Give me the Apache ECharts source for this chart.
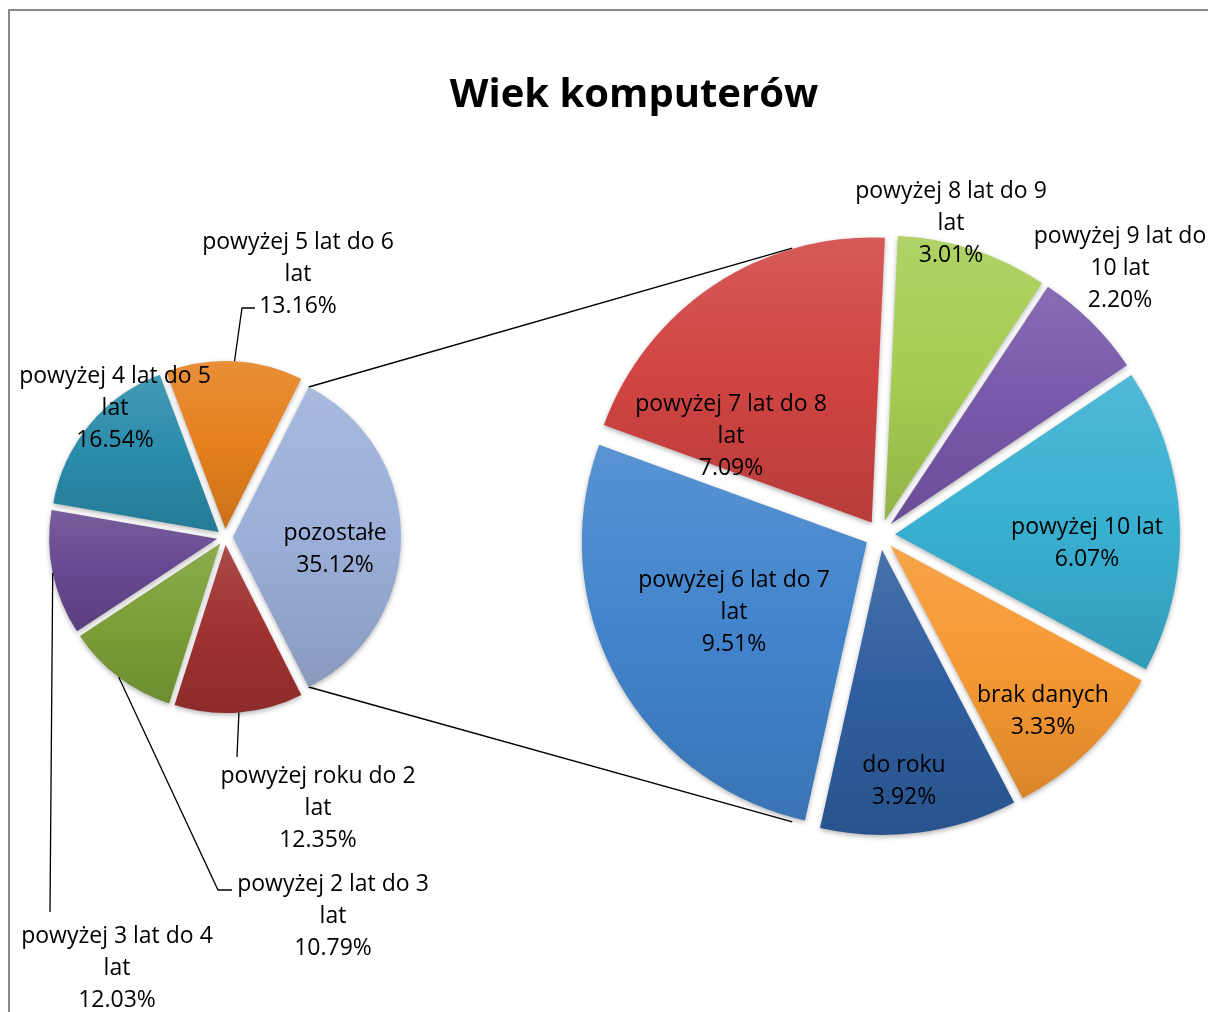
<!DOCTYPE html>
<html>
<head>
<meta charset="utf-8">
<script src="https://cdn.jsdelivr.net/npm/echarts@6/dist/echarts.min.js"></script>
<style>
    html, body {margin: 0; padding: 0; background: #fff;}
    #chart {width: 1208px; height: 1012px;}
</style>
</head>
<body>
<div id="chart"></div>
<script>
    // wykres główny (lewy)
    var mainNames = ['pozostałe', 'powyżej roku do 2 lat', 'powyżej 2 lat do 3 lat', 'powyżej 3 lat do 4 lat',
        'powyżej 4 lat do 5 lat', 'powyżej 5 lat do 6 lat'];
    var mainValues = [35.12, 12.35, 10.79, 12.03, 16.54, 13.16];
    var mainColors = ['#9bafd8', '#9f3230', '#7c9f38', '#664890', '#2a8cab', '#e5801d'];

    // rozbicie "pozostałe" (prawy)
    var restNames = ['powyżej 7 lat do 8 lat', 'powyżej 8 lat do 9 lat', 'powyżej 9 lat do 10 lat', 'powyżej 10 lat',
        'brak danych', 'do roku', 'powyżej 6 lat do 7 lat'];
    var restValues = [7.09, 3.01, 2.20, 6.07, 3.33, 3.92, 9.51];
    var restColors = ['#d04442', '#a6cc52', '#7858aa', '#39b0d1', '#f69832', '#2f5e9f', '#4284cc'];

    // geometria
    var c1 = [225, 537], r1 = 168, off1 = 8;
    var c2 = [880, 535], r2 = 285, off2 = 15;
    var start1 = mainValues[0] / 100 * 360 / 2;
    var start2 = 160;
    var joinAngle = 107;

    // pozycje etykiet
    var mainLabelPos = [[335, 549], [318, 808], [333, 916], [117, 968], [115, 408], [298, 274]];
    var mainBend = [null, [[237, 757]], [[218, 890], [232, 890]], [[50, 912]], null, [[242, 308], [255, 308]]];
    var restLabelPos = [[731, 436], [951, 223], [1120, 268], [1087, 543], [1043, 711], [904, 781], [734, 612]];

    function dir(a) {
        var rad = a * Math.PI / 180;
        return [Math.cos(rad), -Math.sin(rad)];
    }

    function pt(c, r, a) {
        var d = dir(a);
        return [c[0] + r * d[0], c[1] + r * d[1]];
    }

    function midAngles(values, start) {
        var total = values.reduce(function (s, v) { return s + v; }, 0);
        var acc = start, res = [];
        values.forEach(function (v) {
            var span = v / total * 360;
            res.push(acc - span / 2);
            acc -= span;
        });
        return res;
    }

    function shade(hex, k) {
        var n = parseInt(hex.slice(1), 16);
        var r = (n >> 16) & 255, g = (n >> 8) & 255, b = n & 255;
        function f(x) {
            var y = k > 0 ? x + (255 - x) * k : x * (1 + k);
            return Math.round(Math.max(0, Math.min(255, y)));
        }
        return 'rgb(' + f(r) + ',' + f(g) + ',' + f(b) + ')';
    }

    function grad(c) {
        return {
            type: 'linear', x: 0, y: 0, x2: 0, y2: 1,
            colorStops: [
                {offset: 0, color: shade(c, 0.12)},
                {offset: 0.5, color: c},
                {offset: 1, color: shade(c, -0.12)}
            ]
        };
    }

    function wrap(name) {
        var words = name.split(' '), lines = [], cur = '';
        words.forEach(function (w) {
            var t = cur ? cur + ' ' + w : w;
            if (t.length > 18 && cur) {
                lines.push(cur);
                cur = w;
            } else {
                cur = t;
            }
        });
        lines.push(cur);
        return lines.join('\n');
    }

    var mid1 = midAngles(mainValues, start1);

    // wycinki (wysunięte)
    var mainSlices = mainNames.map(function (n, i) {
        return {name: n, value: mainValues[i], selected: true, itemStyle: {color: grad(mainColors[i])}};
    });
    var restSlices = restNames.map(function (n, i) {
        return {name: n, value: restValues[i], selected: true, itemStyle: {color: grad(restColors[i])}};
    });
    // etykiety (niewidoczna kopia bez wysunięcia)
    var mainLabels = mainNames.map(function (n, i) {
        return {name: n, value: mainValues[i], labelLine: {show: !!mainBend[i]}};
    });
    var restLabels = restNames.map(function (n, i) {
        return {name: n, value: restValues[i]};
    });

    var labelStyle = {
        show: true,
        color: '#000',
        fontFamily: 'Open Sans',
        fontSize: 23,
        lineHeight: 32,
        formatter: function (p) {
            return wrap(p.name) + '\n' + p.value.toFixed(2) + '%';
        }
    };

    var p1Top = pt([c1[0] + off1, c1[1]], r1, start1);
    var p1Bot = pt([c1[0] + off1, c1[1]], r1, -start1);
    var p2Top = pt(c2, r2 + off2, joinAngle);
    var p2Bot = pt(c2, r2 + off2, -joinAngle);

    function slicePie(center, radius, start, offset, data) {
        return {
            type: 'pie',
            center: center,
            radius: radius,
            startAngle: start,
            clockwise: true,
            selectedMode: 'multiple',
            selectedOffset: offset,
            emphasis: {disabled: true},
            silent: true,
            itemStyle: {shadowBlur: 5, shadowColor: 'rgba(0,0,0,0.3)', shadowOffsetY: 2},
            label: {show: false},
            labelLine: {show: false},
            data: data
        };
    }

    function labelPie(center, radius, start, data, layout, withLines) {
        return {
            type: 'pie',
            center: center,
            radius: radius,
            startAngle: start,
            clockwise: true,
            silent: true,
            z: 3,
            avoidLabelOverlap: false,
            emphasis: {disabled: true},
            itemStyle: {color: 'rgba(0,0,0,0)'},
            label: labelStyle,
            labelLine: {show: withLines, lineStyle: {color: '#000', width: 1.3}},
            labelLayout: layout,
            data: data
        };
    }

    var myChart = echarts.init(document.getElementById('chart'));
    var option = {
        backgroundColor: '#fff',
        animation: false,
        title: {
            text: 'Wiek komputerów',
            left: 629,
            top: 71,
            textAlign: 'center',
            textStyle: {fontFamily: 'Open Sans', fontSize: 40, fontWeight: 'bold', color: '#000'}
        },
        graphic: [
            {
                type: 'rect', z: -1, silent: true,
                shape: {x: 9, y: 10, width: 1400, height: 1200},
                style: {fill: null, stroke: '#8a8a8a', lineWidth: 2}
            },
            {
                type: 'line', z: 0, silent: true,
                shape: {x1: p1Top[0], y1: p1Top[1], x2: p2Top[0], y2: p2Top[1]},
                style: {stroke: '#000', lineWidth: 1.5}
            },
            {
                type: 'line', z: 0, silent: true,
                shape: {x1: p1Bot[0], y1: p1Bot[1], x2: p2Bot[0], y2: p2Bot[1]},
                style: {stroke: '#000', lineWidth: 1.5}
            }
        ],
        series: [
            slicePie(c1, r1, start1, off1, mainSlices),
            slicePie(c2, r2, start2, off2, restSlices),
            labelPie(c1, r1, start1, mainLabels, function (p) {
                var i = p.dataIndex;
                var res = {x: mainLabelPos[i][0], y: mainLabelPos[i][1], align: 'center', verticalAlign: 'middle'};
                if (mainBend[i]) {
                    var pts = [pt(c1, r1 + off1, mid1[i])].concat(mainBend[i]);
                    if (pts.length < 3) pts.push(pts[pts.length - 1]);
                    res.labelLinePoints = pts;
                }
                return res;
            }, true),
            labelPie(c2, r2, start2, restLabels, function (p) {
                var i = p.dataIndex;
                return {x: restLabelPos[i][0], y: restLabelPos[i][1], align: 'center', verticalAlign: 'middle'};
            }, false)
        ]
    };
    myChart.setOption(option);
</script>
</body>
</html>
